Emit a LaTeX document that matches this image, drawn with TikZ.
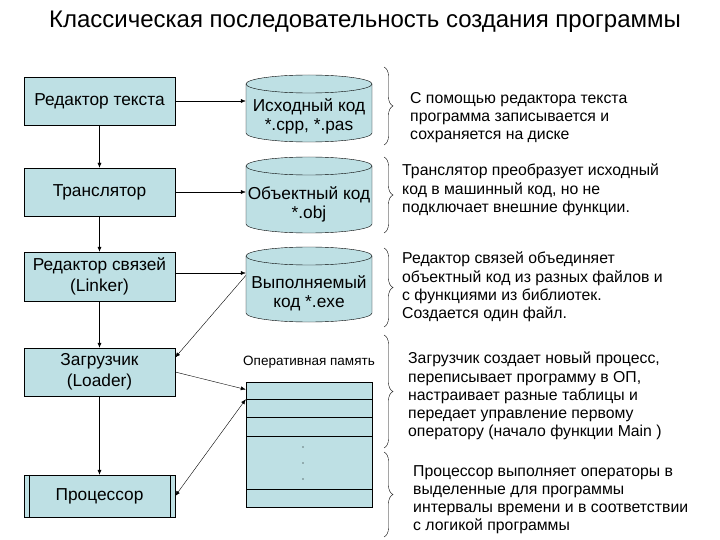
\documentclass[tikz,border=0pt]{standalone}
\usepackage{fontspec}
\setmainfont{Liberation Sans}
\usetikzlibrary{arrows.meta,decorations.pathreplacing,calc}
\definecolor{boxfill}{RGB}{190,224,228}
\begin{document}
\begin{tikzpicture}[x=1pt,y=-1pt,
  box/.style={draw,fill=boxfill,minimum width=151pt,align=center,inner sep=2pt,font=\fontsize{17.3}{20.5}\selectfont},
  cylbox/.style={minimum width=126pt,inner sep=0pt,align=center,font=\fontsize{17.3}{19}\selectfont},
  cell/.style={draw,fill=boxfill,minimum width=126pt,inner sep=0pt},
  arr/.style={-{Latex[length=5pt,width=4pt]},thin},
  darr/.style={{Latex[length=5pt,width=4pt]}-{Latex[length=5pt,width=4pt]},thin},
  desc/.style={anchor=north west,align=left,inner sep=0pt,font=\fontsize{15.8}{18.2}\selectfont},
  brc/.style={decorate,decoration={brace,amplitude=9pt},thin}]
\useasboundingbox (0,0) rectangle (720,540);
% title
\node (title) at (365,22) {\fontsize{24}{28}\selectfont Классическая последовательность создания программы};
% left boxes
\node[box,minimum height=48pt] (b1) at (99.5,101) {Редактор текста};
\node[box,minimum height=48pt] (b2) at (99.5,192) {Транслятор};
\node[box,minimum height=49pt] (b3) at (99.5,276.5) {Редактор связей\\(Linker)};
\node[box,minimum height=48pt] (b4) at (99.5,372) {Загрузчик\\(Loader)};
\node[box,minimum height=42pt] (b5) at (99.5,496) {Процессор};
\draw ($(b5.north west)+(5,0)$) -- ($(b5.south west)+(5,0)$);
\draw ($(b5.north east)+(-5,0)$) -- ($(b5.south east)+(-5,0)$);
% cylinders
\foreach \n/\t/\b in {c1/75/142, c2/157/233, c3/247/322}{
  \fill[boxfill] (246,\t+9) -- (246,\b-9) arc[start angle=180,end angle=360,x radius=63pt,y radius=9pt] -- (372,\t+9) arc[start angle=0,end angle=180,x radius=63pt,y radius=9pt] -- cycle;
  \draw (246,\t+9) -- (246,\b-9) arc[start angle=180,end angle=360,x radius=63pt,y radius=9pt] -- (372,\t+9);
  \draw (309,\t+9) ellipse[x radius=63pt,y radius=9pt];
  \node[cylbox,minimum height=\b-\t] (\n) at (309,{(\t+\b)/2}) {};
}
\node[cylbox] (t1) at (309,116) {Исходный код\\*.cpp, *.pas};
\node[cylbox] (t2) at (309,204) {Объектный код\\*.obj};
\node[cylbox] (t3) at (309,293) {Выполняемый\\код *.exe};
% memory
\node[font=\fontsize{13.5}{15}\selectfont] (memlabel) at (309,362) {Оперативная память};
\node[cell,minimum height=17pt] (m1) at (309,390.5) {};
\node[cell,minimum height=18pt] (m2) at (309,408) {};
\node[cell,minimum height=19pt] (m3) at (309,426.5) {};
\node[cell,minimum height=53pt] (m4) at (309,462.5) {};
\node[cell,minimum height=18pt] (m5) at (309,498) {};
\foreach \yy in {447,463,479} \fill (303,\yy) circle[radius=0.6pt];
% connectors
\draw[arr] (b1) -- (b2);
\draw[arr] (b2) -- (b3);
\draw[arr] (b3) -- (b4);
\draw[arr] (b4) -- (b5);
\draw[arr] (b1.east) -- (b1.east -| c1.west);
\draw[arr] (b2.east) -- (b2.east -| c2.west);
\draw[arr] ($(b3.east)+(0,-3.5)$) -- ($(b3.east -| c3.west)+(0,-3.5)$);
\coordinate (exeout) at ($(b3.east -| c3.west)+(0,-1)$);
\draw[arr] (exeout) -- ($(b4.north east)!0.2!(b4.south east)$);
\draw[arr] (b4.east) -- ($(m1.west)+(0,-1)$);
\draw[darr] (b5.east) -- (m1.south west);
% braces
\draw[brc] (384,67) -- (384,145);
\draw[brc] (384,157) -- (384,233);
\draw[brc] (384,248) -- (384,327);
\draw[brc] (384,335) -- (384,448);
\draw[brc] (384,452) -- (384,537);
% descriptions
\node[desc] (d1) at (410,92) {С помощью редактора текста\\программа записывается и\\сохраняется на диске};
\node[desc] (d2) at (402,164) {Транслятор преобразует исходный\\код в машинный код, но не\\подключает внешние функции.};
\node[desc] (d3) at (402,252) {Редактор связей объединяет\\объектный код из разных файлов и\\с функциями из библиотек.\\Создается один файл.};
\node[desc] (d4) at (408,352) {Загрузчик создает новый процесс,\\переписывает программу в ОП,\\настраивает разные таблицы и\\передает управление первому\\оператору (начало функции Main )};
\node[desc] (d5) at (413,465) {Процессор выполняет операторы в\\выделенные для программы\\интервалы времени и в соответствии\\с логикой программы};
\end{tikzpicture}
\end{document}
